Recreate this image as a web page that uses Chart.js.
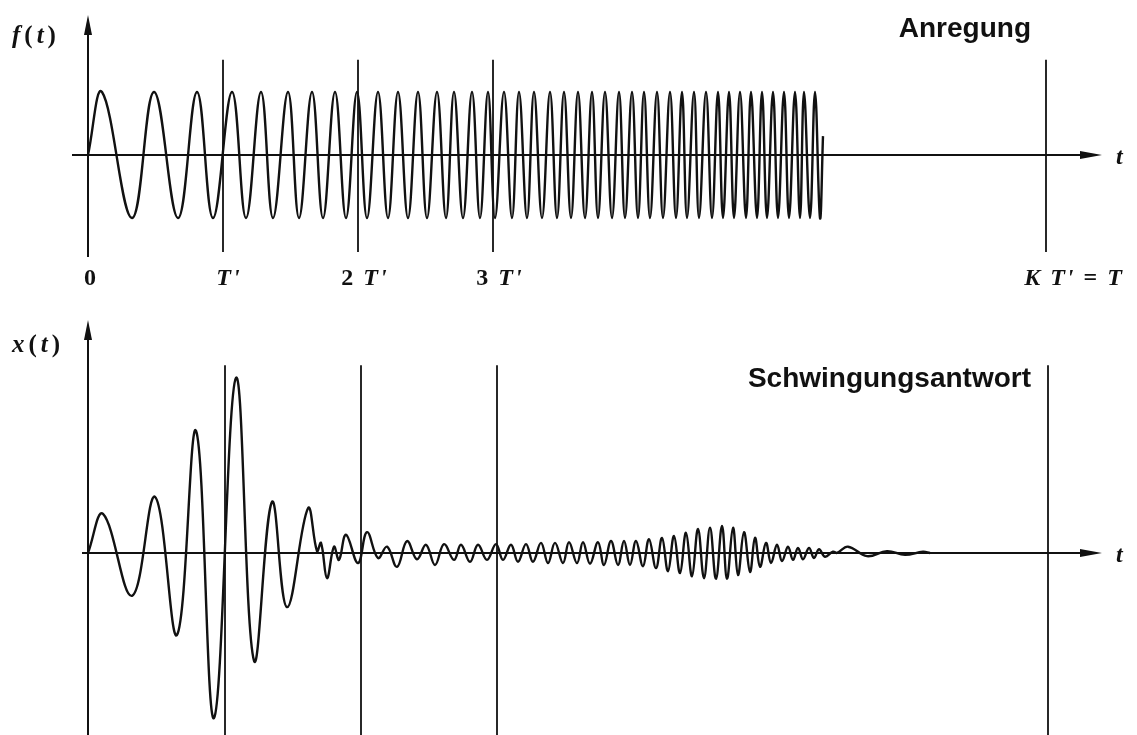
<!DOCTYPE html>
<html lang="de">
<head>
    <meta charset="UTF-8">
    <title>Anregung und Schwingungsantwort</title>
    <style>
        html, body { margin: 0; padding: 0; background: #ffffff; }
        canvas { display: block; }
    </style>
</head>
<body>

    <!-- Anregung f(t) -->
    <canvas id="topChart" width="1137" height="300"></canvas>
    <!-- Schwingungsantwort x(t) -->
    <canvas id="bottomChart" width="1137" height="435"></canvas>

    <script src="https://cdn.jsdelivr.net/npm/chart.js"></script>
    <script>
        // Zeitachse in Einheiten mit T' = 135
        const tickValues = [0, 135, 270, 405, 958];
        const tickLabels = ['0', "T'", "2 T'", "3 T'", "K T' = T"];
        const markersTop = [135, 270, 405, 958];
        const markersBottom = [137, 273, 409, 960];

        // Anregung: Extremwerte des Gleitsinus
        const fT = [0, 14, 44, 66, 90, 109, 125, 144, 158, 173, 185, 200, 211, 224, 235, 247, 258, 269, 279,
            290, 300, 310, 320, 330, 339, 349, 358, 366, 375, 384, 392, 400, 407, 416, 424, 431, 439, 446, 454,
            462, 469, 476, 483, 490, 497, 504, 510, 517, 524, 531, 537, 544, 550, 556, 562, 569, 575, 582, 588,
            594, 599, 606, 611, 618, 624, 630, 635, 641, 646, 652, 658, 663, 669, 674, 679, 685, 690, 696, 701,
            707, 712, 716, 722, 727, 732, 735];
        const fV = [0, 1, -1, 1, -1, 1, -1, 1, -1, 1, -1, 1, -1, 1, -1, 1, -1, 1, -1,
            1, -1, 1, -1, 1, -1, 1, -1, 1, -1, 1, -1, 1, -1, 1, -1, 1, -1, 1, -1,
            1, -1, 1, -1, 1, -1, 1, -1, 1, -1, 1, -1, 1, -1, 1, -1, 1, -1, 1, -1,
            1, -1, 1, -1, 1, -1, 1, -1, 1, -1, 1, -1, 1, -1, 1, -1, 1, -1, 1, -1,
            1, -1, 1, -1, 1, -1, 0.3];

        // Schwingungsantwort: Extremwerte
        const xT = [0, 15, 44, 67, 89, 108, 126, 148, 166, 184, 199, 220, 229, 233, 239, 246, 251, 258, 270, 279,
            290, 299, 309, 319, 329, 338, 347, 356, 366, 373, 382, 390, 399, 408, 415, 423, 430, 438, 445, 453,
            460, 467, 475, 481, 489, 495, 502, 510, 516, 523, 530, 536, 542, 548, 555, 561, 568, 574, 580, 586,
            592, 598, 604, 610, 616, 622, 628, 634, 639, 645, 650, 656, 662, 667, 672, 678, 683, 689, 694, 700,
            705, 710, 715, 721, 726, 731, 737, 745, 749, 760, 779, 799, 817, 835, 842];
        const xV = [0, 0.62, -0.68, 0.89, -1.30, 1.94, -2.62, 2.78, -1.71, 0.81, -0.86, 0.71, 0.03, 0.16, -0.40, 0.10, -0.11, 0.29, -0.16, 0.33,
            -0.08, 0.10, -0.22, 0.19, -0.10, 0.13, -0.19, 0.14, -0.11, 0.13, -0.14, 0.13, -0.11, 0.14, -0.11, 0.13, -0.14, 0.14, -0.14, 0.16,
            -0.16, 0.16, -0.16, 0.17, -0.16, 0.17, -0.17, 0.17, -0.19, 0.19, -0.19, 0.19, -0.19, 0.19, -0.21, 0.22, -0.24, 0.24, -0.29, 0.27,
            -0.32, 0.32, -0.37, 0.38, -0.40, 0.40, -0.41, 0.43, -0.41, 0.40, -0.35, 0.33, -0.30, 0.24, -0.22, 0.16, -0.16, 0.13, -0.13, 0.10,
            -0.11, 0.08, -0.10, 0.08, -0.08, 0.06, -0.06, 0.02, 0.00, 0.10, -0.05, 0.03, -0.03, 0.02, 0];

        const ink = '#111111';
        const serif = '"Liberation Serif", "DejaVu Serif", serif';
        const sans = '"Liberation Sans", Arial, sans-serif';

        // Text mit aufrechten Ziffern und kursiven Buchstaben
        function drawFormula(ctx, text, x, y, size, align, spacing) {
            spacing = spacing || 0;
            const up = 'bold ' + size + 'px ' + serif;
            const it = 'italic bold ' + size + 'px ' + serif;
            const parts = text.split('').map(ch => ({ ch, font: /[A-Za-z']/.test(ch) ? it : up }));
            let w = 0;
            parts.forEach(p => { ctx.font = p.font; p.w = ctx.measureText(p.ch).width + spacing; w += p.w; });
            let cx = align === 'center' ? x - (w - spacing) / 2 : x;
            ctx.textAlign = 'left';
            ctx.textBaseline = 'alphabetic';
            parts.forEach(p => { ctx.font = p.font; ctx.fillText(p.ch, cx, y); cx += p.w; });
        }

        const figurePlugin = {
            id: 'figure',
            beforeDatasetsDraw(chart, args, o) {
                const { ctx, chartArea: a, scales: { x, y } } = chart;
                const x0 = x.getPixelForValue(0);
                const y0 = y.getPixelForValue(0);
                ctx.save();
                ctx.strokeStyle = ink;
                ctx.fillStyle = ink;
                ctx.lineWidth = 2;

                // Ordinate mit Pfeil
                ctx.beginPath();
                ctx.moveTo(x0, a.top + 6);
                ctx.lineTo(x0, a.bottom);
                ctx.stroke();
                ctx.beginPath();
                ctx.moveTo(x0, a.top);
                ctx.lineTo(x0 - 4, a.top + 20);
                ctx.lineTo(x0 + 4, a.top + 20);
                ctx.closePath();
                ctx.fill();

                // Zeitachse mit Pfeil
                ctx.beginPath();
                ctx.moveTo(x.getPixelForValue(o.axisStart), y0);
                ctx.lineTo(a.right - 6, y0);
                ctx.stroke();
                ctx.beginPath();
                ctx.moveTo(a.right, y0);
                ctx.lineTo(a.right - 22, y0 - 4);
                ctx.lineTo(a.right - 22, y0 + 4);
                ctx.closePath();
                ctx.fill();

                // Markierungen T', 2T', 3T', KT'
                ctx.lineWidth = 1.8;
                o.markers.forEach(m => {
                    const px = x.getPixelForValue(m);
                    ctx.beginPath();
                    ctx.moveTo(px, y.getPixelForValue(o.markerTop));
                    ctx.lineTo(px, o.markerBottom === null ? a.bottom : y.getPixelForValue(o.markerBottom));
                    ctx.stroke();
                });
                ctx.restore();
            },
            afterDraw(chart, args, o) {
                const { ctx, chartArea: a, scales: { x, y } } = chart;
                const y0 = y.getPixelForValue(0);
                ctx.save();
                ctx.fillStyle = ink;

                drawFormula(ctx, o.yLabel, 12, o.yLabelY, 25, 'left', 4);
                drawFormula(ctx, 't', a.right + 14, y0 + 9, 24, 'left');

                ctx.font = 'bold 28px ' + sans;
                ctx.textAlign = 'right';
                ctx.textBaseline = 'alphabetic';
                ctx.fillText(o.title, 1031, o.titleY);

                if (o.ticks) {
                    const shift = [2, 5, 6, 6, 27];
                    tickValues.forEach((v, i) => {
                        drawFormula(ctx, tickLabels[i], x.getPixelForValue(v) + shift[i], 285, 24, 'center', 2);
                    });
                }
                ctx.restore();
            }
        };

        function makeChart(id, times, values, yMin, yMax, padding, fig) {
            return new Chart(document.getElementById(id), {
                type: 'line',
                data: {
                    datasets: [{
                        data: times.map((t, i) => ({ x: t, y: values[i] })),
                        borderColor: ink,
                        borderWidth: 2.4,
                        pointRadius: 0,
                        tension: 0.4,
                        fill: false
                    }]
                },
                options: {
                    responsive: false,
                    animation: false,
                    layout: { padding },
                    scales: {
                        x: { type: 'linear', min: -16, max: 1014, display: false },
                        y: { min: yMin, max: yMax, display: false }
                    },
                    plugins: {
                        legend: { display: false },
                        tooltip: { enabled: false },
                        figure: fig
                    }
                },
                plugins: [figurePlugin]
            });
        }

        makeChart('topChart', fT, fV, -1.619, 2.222,
            { left: 72, right: 35, top: 15, bottom: 43 },
            { markers: markersTop, markerTop: 1.51, markerBottom: -1.54, axisStart: -16,
              yLabel: 'f(t)', yLabelY: 43, title: 'Anregung', titleY: 37, ticks: true });

        makeChart('bottomChart', xT, xV, -2.889, 3.698,
            { left: 72, right: 35, top: 20, bottom: 0 },
            { markers: markersBottom, markerTop: 2.98, markerBottom: null, axisStart: -6,
              yLabel: 'x(t)', yLabelY: 52, title: 'Schwingungsantwort', titleY: 87, ticks: false });
    </script>

</body>
</html>
